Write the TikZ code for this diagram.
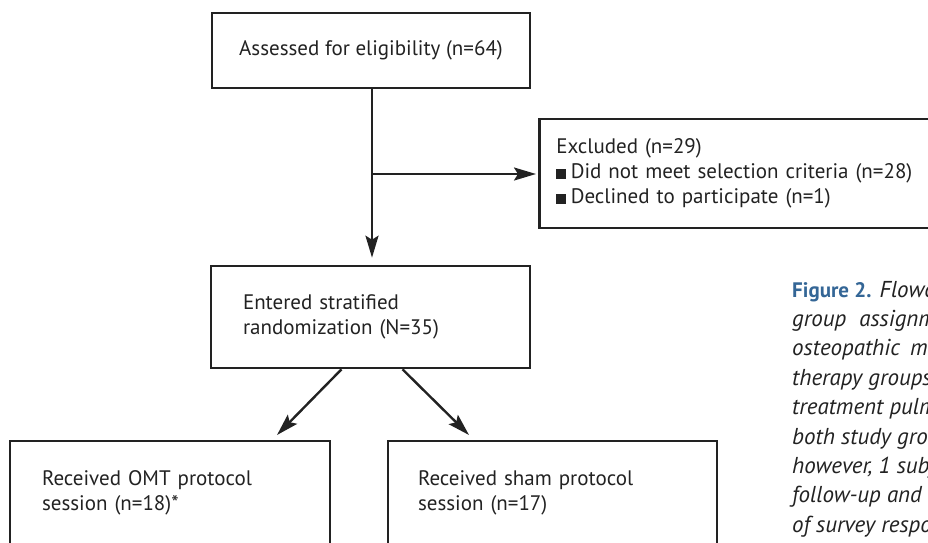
\documentclass[tikz,border=0pt]{standalone}
\usepackage{fontspec}
\setmainfont{PT Sans}
\usetikzlibrary{arrows.meta,positioning}
\definecolor{figblue}{RGB}{52,102,150}
\definecolor{ink}{RGB}{34,34,34}
\newcommand{\sqbullet}{\rule{9.5pt}{9.5pt}\hspace{5pt}}
\tikzset{
  box/.style={draw=ink, line width=2.6pt, rectangle, align=left, text=ink,
    font=\fontsize{21}{25}\selectfont, inner ysep=0pt},
  arr/.style={draw=ink, line width=2.4pt, -{Stealth[length=22pt,width=13pt,inset=4pt]}},
  capline/.style={anchor=base west, inner sep=0pt, text=ink,
    font=\fontsize{23}{29}\selectfont\itshape},
}
\begin{document}
\begin{tikzpicture}[x=1pt,y=-1pt]
  \useasboundingbox (0,0) rectangle (928,542);
  \clip (0,0) rectangle (928,542);
  %Caixas
  \node[box, align=center, minimum width=318, minimum height=75] (assess) at (371,50.5)
    {Assessed for eligibility (n=64)};
  \node[box, anchor=west, inner xsep=17, text width=378, minimum height=109] (excl) at (538,173.5)
    {Excluded (n=29)\\ \sqbullet Did not meet selection criteria (n=28)\\ \sqbullet Declined to participate (n=1)};
  \node[box, inner xsep=32, text width=255, minimum height=102] (rand) at (370.5,317)
    {Entered stratified\\ randomization (N=35)};
  \node[box, inner xsep=32, text width=256, minimum height=104] (omt) at (170,493)
    {Received OMT protocol\\ session (n=18)*};
  \node[box, inner xsep=30, text width=269, minimum height=104] (sham) at (552.5,493)
    {Received sham protocol\\ session (n=17)};
  %Setas
  \coordinate (branch) at (372,174);
  \coordinate (tipL) at (277,435);
  \coordinate (tipR) at (469,435);
  \draw[arr, shorten >=7pt] (assess.south -| branch) -- (rand.north -| branch);
  \draw[arr, shorten >=2pt] (branch) -- (excl.west |- branch);
  \draw[arr] ([xshift=-29pt]rand.south) -- (tipL);
  \draw[arr] ([xshift=32pt]rand.south) -- (tipR);
  %Legenda
  \node[capline] (cap1) at (792,297) {{\upshape\bfseries\fontsize{21}{29}\selectfont\color{figblue}Figure 2.} Flowchart of the study};
  \node[capline] (cap2) at (792,326.4) {group\hspace{7pt} assignment to the};
  \node[capline] (cap3) at (792,355.8) {osteopathic\hspace{4pt} manipulative};
  \node[capline] (cap4) at (792,385.2) {therapy groups and};
  \node[capline] (cap5) at (792,414.6) {treatment pulmonary};
  \node[capline] (cap6) at (792,444) {both study groups};
  \node[capline] (cap7) at (792,473.4) {however, 1 subject};
  \node[capline] (cap8) at (792,502.8) {follow-up and was};
  \node[capline] (cap9) at (792,532.2) {of survey responses};
\end{tikzpicture}
\end{document}
